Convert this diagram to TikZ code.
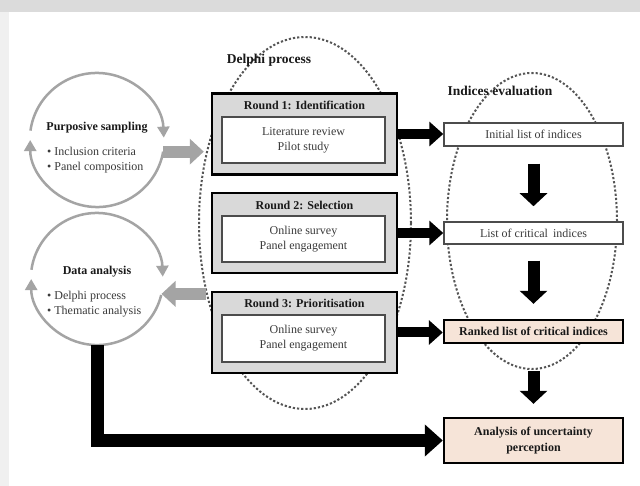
\documentclass[tikz,border=0pt]{standalone}
\usepackage{fontspec}
\setmainfont{Liberation Serif}
\usetikzlibrary{arrows.meta,calc}
\definecolor{arrgray}{HTML}{A4A4A4}
\definecolor{boxgray}{HTML}{D9D9D9}
\definecolor{peach}{HTML}{F6E4D8}
\definecolor{dotgray}{HTML}{555555}
\definecolor{txtgray}{HTML}{3A3A3A}
\begin{document}
\begin{tikzpicture}[x=1pt,y=1pt,
  body/.style={font=\fontsize{12}{15}\selectfont, text=txtgray},
  boldtxt/.style={font=\bfseries\fontsize{12}{15}\selectfont, text=black!90},
  headtxt/.style={font=\bfseries\fontsize{13.5}{16}\selectfont, text=black!90},
  outerbox/.style={draw=black, line width=2.4pt, fill=boxgray, inner sep=0pt, minimum width=185, minimum height=81},
  innerbox/.style={draw=black!70, line width=1.3pt, fill=white, inner sep=0pt, minimum width=163, minimum height=46, align=center, body},
  idxbox/.style={draw=black!70, line width=1.5pt, fill=white, inner sep=0pt, minimum width=179, minimum height=23, body},
  keybox/.style={draw=black, line width=2.4pt, fill=peach, inner sep=0pt, minimum width=179, minimum height=23, align=center, boldtxt},
  ring/.style={circle, inner sep=0pt, minimum size=134},
  ringarrow/.style={draw=arrgray, line width=2.5pt, -{Triangle[length=11pt,width=12pt]}},
  grayarrow/.style={draw=arrgray, line width=12pt, -{Triangle[length=14pt,width=25pt]}},
  blackarrow/.style={draw=black, line width=10pt, -{Triangle[length=14pt,width=24pt]}},
  downarrow/.style={draw=black, line width=12pt, -{Triangle[length=13pt,width=27pt]}},
  bigarrow/.style={draw=black, line width=13pt, -{Triangle[length=18pt,width=31pt]}},
  dotline/.style={draw=dotgray, line width=2pt, dash pattern=on 2.2pt off 2pt}
]
% background
\fill[white] (0,0) rectangle (640,486);
\useasboundingbox (0,0) rectangle (640,486);
\fill[black!14] (0,474) rectangle (640,486);
\fill[black!6] (0,0) rectangle (9,474);

% dotted ellipses
\draw[dotline] (305,263) ellipse [x radius=106, y radius=186];
\draw[dotline] (532,265) ellipse [x radius=85, y radius=148];

% headings
\node[headtxt] (hdelphi) at (269,426) {Delphi process};
\node[headtxt] (hindices) at (500,395) {Indices evaluation};

% Delphi rounds
\node[outerbox] (r1) at (304.5,352) {};
\node[boldtxt] (t1) at (304.5,381) {Round 1: Identification};
\node[innerbox] (b1) at (303.5,346) {Literature review\\Pilot study};

\node[outerbox, minimum height=80] (r2) at (304.5,253) {};
\node[boldtxt] (t2) at (304.5,281) {Round 2: Selection};
\node[innerbox] (b2) at (303.5,247) {Online survey\\Panel engagement};

\node[outerbox] (r3) at (304.5,153.5) {};
\node[boldtxt] (t3) at (304.5,183) {Round 3: Prioritisation};
\node[innerbox, minimum height=47] (b3) at (303.5,147.5) {Online survey\\Panel engagement};

% indices boxes
\node[idxbox] (i1) at (533.5,351.5) {Initial list of indices};
\node[idxbox, minimum height=22] (i2) at (533.5,253) {List of critical\, indices};
\node[keybox] (i3) at (533.5,154.5) {Ranked list of critical indices};
\node[keybox, minimum height=45, font=\bfseries\fontsize{12}{16}\selectfont] (i4) at (533.5,45.5) {Analysis of uncertainty\\perception};

% left rings
\node[ring] (ps) at (97,346) {};
\node[boldtxt] (pst) at (97,358) {Purposive sampling};
\node[body, align=left, anchor=west, inner sep=0pt] (psb) at (47,325.5) {• Inclusion criteria\\• Panel composition};
\draw[ringarrow] (ps.172) arc[start angle=172, end angle=2, radius=67];
\draw[ringarrow] (ps.-10) arc[start angle=-10, end angle=-180, radius=67];

\node[ring, minimum size=132] (da) at (97,207) {};
\node[boldtxt] (dat) at (97,214) {Data analysis};
\node[body, align=left, anchor=west, inner sep=0pt] (dab) at (47,182) {• Delphi process\\• Thematic analysis};
\draw[ringarrow] (da.172) arc[start angle=172, end angle=2, radius=66];
\draw[ringarrow] (da.-14) arc[start angle=-14, end angle=-180, radius=66];

% gray arrows
\draw[grayarrow] (ps.-10) -- ($(r1.west |- ps.-10)+(-7,0)$);
\draw[grayarrow] ($(r3.west |- da.-13)+(-5,0)$) -- (da.-13);

% black arrows rounds -> indices
\draw[blackarrow] (r1.east) -- (r1.east -| i1.west);
\draw[blackarrow] (r2.east) -- (r2.east -| i2.west);
\draw[blackarrow] (r3.east) -- (r3.east -| i3.west);

% down arrows
\draw[downarrow] ($(i1.south)+(0,-17)$) -- ($(i2.north)+(0,15)$);
\draw[downarrow] ($(i2.south)+(0,-16)$) -- ($(i3.north)+(0,15)$);
\draw[downarrow] ($(i3.south)+(0,-27)$) -- ($(i4.north)+(0,13)$);

% L arrow
\draw[bigarrow] (da.south) |- (i4.west);
\end{tikzpicture}
\end{document}
